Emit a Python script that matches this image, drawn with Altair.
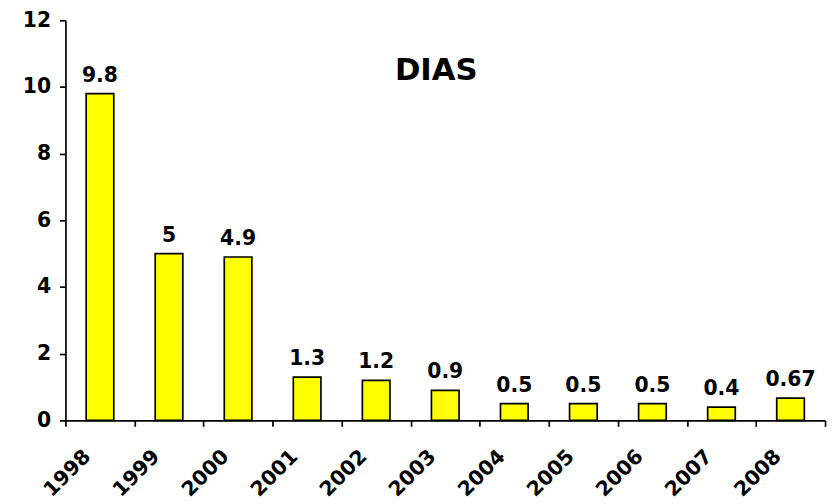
import altair as alt
import pandas as pd

years = [1998, 1999, 2000, 2001, 2002, 2003, 2004, 2005, 2006, 2007, 2008]
values = [9.8, 5, 4.9, 1.3, 1.2, 0.9, 0.5, 0.5, 0.5, 0.4, 0.67]
labels = ["9.8", "5", "4.9", "1.3", "1.2", "0.9", "0.5", "0.5", "0.5", "0.4", "0.67"]
y_ticks = [0, 2, 4, 6, 8, 10, 12]
title_text = "DIAS"

df = pd.DataFrame({"year": years, "value": values, "label": labels})

FONT = "DejaVu Sans"
half_bar = 0.2

xscale = alt.Scale(domain=[1997.5, 2008.5], nice=False, zero=False)
yscale = alt.Scale(domain=[0, 12], nice=False)

base = alt.Chart(df).transform_calculate(
    x0=f"datum.year - {half_bar}", x1=f"datum.year + {half_bar}"
)

bars = base.mark_bar(color="#FFFF00", stroke="black", strokeWidth=1.7).encode(
    x=alt.X("x0:Q", scale=xscale,
            axis=alt.Axis(orient="bottom", values=[y + 0.5 for y in [1997] + years],
                          labels=False, ticks=True, tickSize=6, tickWidth=1.7,
                          domain=True, domainWidth=1.7, domainColor="black",
                          tickColor="black", grid=False, title=None)),
    x2="x1:Q",
    y=alt.Y("value:Q", scale=yscale,
            axis=alt.Axis(values=y_ticks, grid=False, title=None, tickSize=6,
                          tickWidth=1.7, domainWidth=1.7, domainColor="black",
                          tickColor="black", labelFont=FONT, labelFontSize=20.5,
                          labelFontWeight="bold", labelColor="black",
                          labelPadding=9)),
    y2=alt.datum(0),
)

texts = base.mark_text(font=FONT, fontSize=20.5, fontWeight="bold", color="black",
                       baseline="alphabetic", dy=-12).encode(
    x=alt.X("year:Q", scale=xscale,
            axis=alt.Axis(orient="bottom", values=years, format="d", ticks=False,
                          domain=False, grid=False, title=None, labelAngle=-45,
                          labelAlign="right", labelBaseline="middle",
                          labelOffset=-13, labelPadding=33, labelFont=FONT,
                          labelFontSize=20.5, labelFontWeight="bold",
                          labelColor="black")),
    y=alt.Y("value:Q", scale=yscale),
    text="label:N",
)

title = alt.Chart(pd.DataFrame({"t": [title_text]})).mark_text(
    font=FONT, fontSize=31, fontWeight="bold", color="black",
    baseline="alphabetic", align="center"
).encode(
    x=alt.X(datum=2002.87, scale=xscale, axis=None),
    y=alt.Y(datum=10.2, scale=yscale),
    text="t:N",
)

chart = alt.layer(bars, texts, title).resolve_axis(x="independent").properties(
    width=767, height=404,
    autosize=alt.AutoSizeParams(type="none"),
    padding={"left": 58, "top": 10, "right": 5, "bottom": 78},
    background="white",
).configure_view(stroke=None)

chart.save("out.html", embed_options={"renderer": "svg", "actions": False})
